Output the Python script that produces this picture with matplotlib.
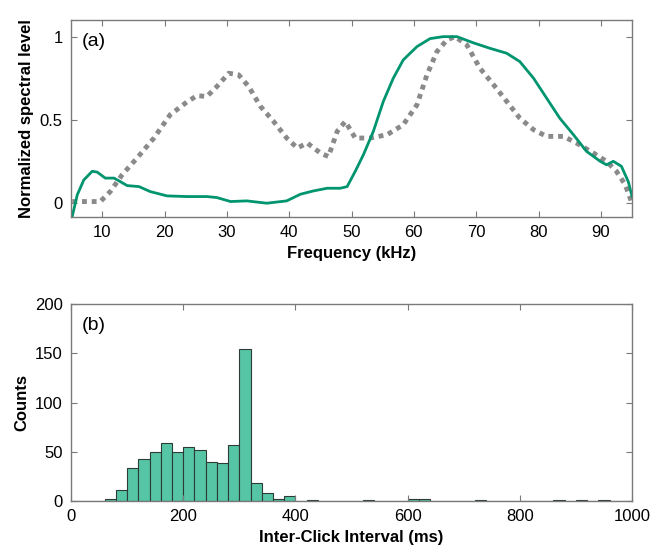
import numpy as np
import matplotlib
matplotlib.use("Agg")
import matplotlib.pyplot as plt

plt.rcParams['font.family'] = ['Liberation Sans', 'DejaVu Sans']

# (a) normalized spectra
green_f = [5.2, 6.0, 7.05, 8.4, 9.2, 10.5, 11.9, 12.9, 14.0, 15.9, 17.7, 20.4,
           23.6, 26.8, 28.4, 30.6, 33.2, 36.4, 39.6, 41.8, 43.9, 46.1, 48.2,
           49.3, 50.6, 51.9, 53.5, 55.1, 56.7, 58.3, 60.5, 62.6, 64.7, 66.9,
           69.6, 72.2, 74.9, 77.0, 79.2, 81.3, 83.4, 85.6, 87.7, 89.9, 90.9,
           92.0, 93.3, 94.4, 95.0]
green_v = [-0.08, 0.048, 0.138, 0.19, 0.185, 0.149, 0.149, 0.128, 0.104, 0.098,
           0.068, 0.042, 0.038, 0.038, 0.032, 0.008, 0.012, -0.002, 0.012, 0.052,
           0.072, 0.088, 0.088, 0.098, 0.19, 0.289, 0.43, 0.61, 0.75, 0.86, 0.94,
           0.988, 1.0, 1.0, 0.962, 0.93, 0.90, 0.85, 0.75, 0.63, 0.51, 0.41, 0.31,
           0.25, 0.229, 0.25, 0.22, 0.128, 0.04]

gray_f = [5.2, 9.7, 11.3, 13.2, 15.6, 18.3, 20.9, 23.6, 25.2, 26.8, 28.4, 30.3,
          31.9, 33.5, 35.4, 37.5, 39.6, 41.3, 42.9, 45.0, 46.3, 47.7, 49.0,
          50.6, 53.0, 55.7, 58.3, 60.5, 62.1, 63.7, 65.3, 66.6, 68.5, 70.6, 72.8,
          74.9, 77.0, 79.2, 81.3, 84.0, 86.1, 88.8, 90.9, 92.5, 93.9, 94.9]
gray_v = [0.008, 0.008, 0.068, 0.169, 0.27, 0.39, 0.53, 0.607, 0.645, 0.64, 0.70,
          0.78, 0.77, 0.70, 0.58, 0.49, 0.39, 0.33, 0.36, 0.30, 0.279, 0.43, 0.49,
          0.39, 0.39, 0.41, 0.47, 0.59, 0.77, 0.91, 0.98, 1.0, 0.95, 0.81, 0.71,
          0.61, 0.51, 0.44, 0.40, 0.40, 0.36, 0.30, 0.25, 0.19, 0.11, 0.008]

# (b) inter-click interval histogram, 20 ms bins from 0 to 1000 ms
bin_edges = np.arange(0, 1001, 20)
counts = [0, 0, 0, 2, 11, 34, 43, 50, 59, 50, 55, 52, 40, 39, 57, 154, 18, 8, 2, 5,
          0, 1, 0, 0, 0, 0, 1, 0, 0, 0, 2, 2, 0, 0, 0, 0, 1, 0, 0, 0,
          0, 0, 0, 1, 0, 1, 0, 1, 0, 0]

freq_ticks = [10, 20, 30, 40, 50, 60, 70, 80, 90]
ici_ticks = [0, 200, 400, 600, 800, 1000]
count_ticks = [0, 50, 100, 150, 200]

fig = plt.figure(figsize=(6.65, 5.56), dpi=100)
ax1 = fig.add_axes([0.1068, 0.6097, 0.8436, 0.3543])
ax2 = fig.add_axes([0.1068, 0.0989, 0.8436, 0.3543])

for ax in (ax1, ax2):
    for s in ax.spines.values():
        s.set_color('#7a7a7a')
        s.set_linewidth(1.0)
    ax.tick_params(direction='in', top=True, right=True, length=4,
                   color='#7a7a7a', labelsize=12, pad=6)

ax1.plot(gray_f, gray_v, color='#8a8a8a', lw=3.5, linestyle=(0, (1, 1)))
ax1.plot(green_f, green_v, color='#00956f', lw=2.0)
ax1.set_xlim(5, 95)
ax1.set_ylim(-0.085, 1.1)
ax1.set_xticks(freq_ticks)
ax1.set_yticks([0, 0.5, 1])
ax1.set_yticklabels(['0', '0.5', '1'])
ax1.set_xlabel('Frequency (kHz)', fontsize=12, fontweight='bold', labelpad=4)
ax1.set_ylabel('Normalized spectral level', fontsize=12, fontweight='bold')
ax1.text(0.02, 0.87, '(a)', transform=ax1.transAxes, fontsize=14)

ax2.bar(bin_edges[:-1], counts, width=20, align='edge', color='#56c5a5',
        edgecolor='#2b3b35', linewidth=0.8)
ax2.set_xlim(0, 1000)
ax2.set_ylim(0, 200)
ax2.set_xticks(ici_ticks)
ax2.set_yticks(count_ticks)
ax2.set_xlabel('Inter-Click Interval (ms)', fontsize=12, fontweight='bold', labelpad=4)
ax2.set_ylabel('Counts', fontsize=12, fontweight='bold')
ax2.text(0.02, 0.87, '(b)', transform=ax2.transAxes, fontsize=14)

fig.savefig('out.png', dpi=100)
